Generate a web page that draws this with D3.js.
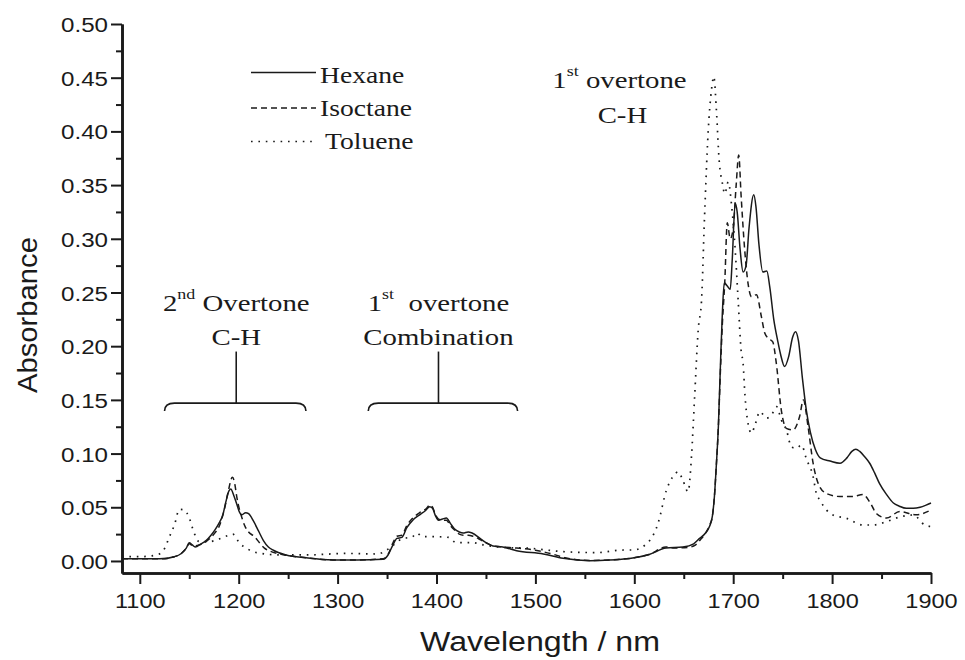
<!DOCTYPE html>
<meta charset="utf-8">
<script src="https://d3js.org/d3.v7.min.js"></script>
<style>
  body { margin: 0; background: #fff; }
  .sans { font-family: "Liberation Sans", Arial, sans-serif; fill: #1a1a1a; }
  .serif { font-family: "Liberation Serif", "Times New Roman", serif; fill: #1a1a1a; }
</style>
<div id="my_dataviz"></div>
<script>

// ---- data ----
var hexaneNm = [1082,1100,1120,1135,1142,1147,1150,1153,1156,1162,1167,1172,1176,1180,1184,1187,1190,1192,1195,1198,1201,1203,1207,1210,1215,1220,1225,1230,1235,1248,1268,1295,1320,1346,1351,1356,1360,1365,1370,1376,1383,1389,1393,1396,1399,1402,1406,1410,1414,1418,1423,1427,1432,1436,1444,1450,1457,1467,1481,1508,1528,1555,1575,1600,1615,1632,1649,1660,1666,1672,1676,1679,1681,1683,1685,1687,1689,1691,1694,1697,1699,1702,1704,1707,1710,1713,1716,1720.8,1723,1726,1730,1734,1737,1741,1745,1748,1752,1756,1760,1763,1766,1770,1774,1778,1783,1788,1798,1808,1815,1820,1824,1828,1833,1838,1843,1848,1855,1862,1868,1875,1882,1889,1895,1900];
var hexaneAbs = [0.002,0.002,0.002,0.004,0.007,0.012,0.017,0.015,0.013,0.016,0.019,0.024,0.029,0.035,0.043,0.055,0.065,0.067,0.061,0.053,0.045,0.043,0.045,0.044,0.037,0.028,0.019,0.013,0.010,0.0056,0.003,0.001,0.001,0.0016,0.0056,0.015,0.021,0.022,0.031,0.038,0.043,0.047,0.0506,0.049,0.042,0.038,0.039,0.040,0.035,0.030,0.027,0.026,0.027,0.026,0.021,0.017,0.014,0.013,0.0096,0.0065,0.0025,0.0003,0.0008,0.003,0.006,0.012,0.013,0.016,0.021,0.026,0.032,0.042,0.06,0.09,0.125,0.18,0.23,0.259,0.256,0.253,0.28,0.333,0.325,0.29,0.269,0.275,0.31,0.341,0.33,0.295,0.269,0.27,0.255,0.225,0.205,0.192,0.181,0.19,0.208,0.2135,0.205,0.17,0.14,0.12,0.104,0.096,0.093,0.091,0.096,0.102,0.104,0.102,0.097,0.091,0.082,0.072,0.062,0.054,0.051,0.049,0.049,0.050,0.052,0.054];

var isoNm = [1082,1120,1135,1142,1147,1150,1154,1160,1167,1174,1181,1186,1189,1193.7,1196,1198,1201,1203,1206,1210,1216,1221,1226,1232,1242,1268,1295,1320,1346,1351,1356,1360,1365,1370,1376,1383,1390,1393,1396,1399,1402,1406,1410,1414,1418,1423,1427,1432,1437,1444,1450,1457,1467,1481,1500,1515,1530,1555,1575,1600,1615,1632,1641,1649,1657,1662,1667,1672,1676,1679,1681,1683,1685,1687,1689,1691.5,1694,1697,1700,1703,1705.6,1708,1711.6,1715,1718.5,1723.5,1728.6,1732,1736,1740,1743.6,1748.7,1753.7,1760.5,1767,1771,1775.7,1780.8,1786,1794,1808,1821,1831,1838,1845,1855,1868.5,1885,1900];
var isoAbs = [0.002,0.002,0.004,0.007,0.012,0.016,0.014,0.015,0.018,0.024,0.034,0.050,0.063,0.078,0.072,0.060,0.047,0.041,0.033,0.027,0.0226,0.017,0.012,0.009,0.0065,0.003,0.001,0.001,0.002,0.006,0.017,0.023,0.024,0.033,0.040,0.045,0.049,0.052,0.050,0.043,0.039,0.038,0.038,0.033,0.029,0.025,0.024,0.024,0.023,0.020,0.017,0.014,0.013,0.012,0.010,0.007,0.003,0.0005,0.001,0.003,0.006,0.013,0.012,0.0123,0.013,0.015,0.020,0.026,0.033,0.042,0.06,0.09,0.125,0.175,0.22,0.26,0.315,0.30,0.31,0.35,0.378,0.34,0.29,0.2585,0.246,0.248,0.227,0.212,0.207,0.204,0.184,0.14,0.1235,0.122,0.134,0.15,0.125,0.091,0.072,0.063,0.060,0.060,0.062,0.055,0.044,0.040,0.046,0.043,0.0475];

var tolNm = [1082,1100,1117,1124,1130,1135,1140,1145,1150,1155,1160,1170,1179,1187,1194,1201,1208,1218,1242,1268,1309,1340,1351,1358,1366,1375,1380,1386,1400,1412,1420,1437,1447,1467,1494,1528,1562,1589,1599,1616,1624,1632.5,1639,1644.5,1649,1654.4,1657.8,1661,1664.6,1668,1671,1674.6,1678,1680.4,1683,1685.8,1689,1691.5,1695,1698.5,1702,1705,1708,1710,1712,1715,1718.5,1722,1727,1733.7,1738.8,1743.8,1748.8,1753.8,1759,1764,1769,1774,1780.8,1784,1787.6,1794.3,1801,1814.6,1831,1841.5,1855,1868.5,1882,1893.7,1900];
var tolAbs = [0.004,0.004,0.0056,0.010,0.0226,0.0335,0.048,0.0475,0.040,0.026,0.018,0.018,0.020,0.023,0.025,0.0165,0.0118,0.0078,0.0056,0.0056,0.007,0.0065,0.011,0.016,0.021,0.022,0.026,0.0226,0.0226,0.022,0.017,0.017,0.015,0.0127,0.0118,0.0087,0.0078,0.0102,0.0102,0.0196,0.035,0.066,0.0785,0.083,0.0754,0.0645,0.097,0.153,0.215,0.243,0.32,0.398,0.4385,0.451,0.42,0.373,0.352,0.342,0.353,0.33,0.29,0.243,0.196,0.184,0.153,0.128,0.119,0.1266,0.139,0.133,0.136,0.1437,0.131,0.122,0.106,0.105,0.108,0.095,0.0785,0.063,0.0568,0.0475,0.0428,0.0397,0.0335,0.0335,0.0366,0.041,0.0428,0.0335,0.032];

var seriesNames = ["Hexane", "Isoctane", "Toluene"];
var xMajor = [1100,1200,1300,1400,1500,1600,1700,1800,1900];
var xMinor = [1150,1250,1350,1450,1550,1650,1750,1850];
var yMajor = [0,0.05,0.10,0.15,0.20,0.25,0.30,0.35,0.40,0.45,0.50];
var yMinor = [0.025,0.075,0.125,0.175,0.225,0.275,0.325,0.375,0.425,0.475];

// ---- layout ----
var W = 965, H = 660;
var svg = d3.select("#my_dataviz").append("svg")
  .attr("width", W).attr("height", H);

var x = d3.scaleLinear().domain([1082, 1900]).range([122, 931]);
var y = d3.scaleLinear().domain([-0.0112, 0.5]).range([573, 24]);

var ink = "#1a1a1a";

// axes
function styleAxis(g) {
  g.select(".domain").attr("stroke", ink).attr("stroke-width", 2.6);
  g.selectAll(".tick line").attr("stroke", ink).attr("stroke-width", 2);
}

var xAxisMinor = svg.append("g").attr("transform", "translate(0,573)")
  .call(d3.axisBottom(x).tickValues(xMinor).tickSize(6).tickSizeOuter(0).tickFormat(""));
styleAxis(xAxisMinor);
var xAxis = svg.append("g").attr("transform", "translate(0,573)")
  .call(d3.axisBottom(x).tickValues(xMajor).tickSize(11).tickSizeOuter(0).tickFormat(d3.format("d")));
styleAxis(xAxis);
xAxis.selectAll("text")
  .attr("class", "sans").attr("font-size", 21).attr("y", 0).attr("dy", null)
  .attr("transform", "translate(0,35) scale(1.12,1)");

var yAxisMinor = svg.append("g").attr("transform", "translate(122,0)")
  .call(d3.axisLeft(y).tickValues(yMinor).tickSize(6).tickSizeOuter(0).tickFormat(""));
styleAxis(yAxisMinor);
var yAxis = svg.append("g").attr("transform", "translate(122,0)")
  .call(d3.axisLeft(y).tickValues(yMajor).tickSize(11).tickSizeOuter(0).tickFormat(d3.format(".2f")));
styleAxis(yAxis);
yAxis.selectAll("text")
  .attr("class", "sans").attr("font-size", 21).attr("x", 0).attr("dy", "0.36em")
  .attr("transform", "translate(-14,0) scale(1.15,1)");

// axis titles
svg.append("text").attr("class", "sans")
  .attr("font-size", 27)
  .attr("text-anchor", "middle")
  .attr("transform", "translate(37," + 315 + ") rotate(-90)")
  .attr("textLength", 156).attr("lengthAdjust", "spacingAndGlyphs")
  .text("Absorbance");

svg.append("text").attr("class", "sans")
  .attr("font-size", 27)
  .attr("text-anchor", "middle")
  .attr("x", 540).attr("y", 651)
  .attr("textLength", 240).attr("lengthAdjust", "spacingAndGlyphs")
  .text("Wavelength / nm");

// curves
var line = d3.line()
  .x(function(d) { return x(d[0]); })
  .y(function(d) { return y(d[1]); })
  .curve(d3.curveMonotoneX);

var series = [
  { name: seriesNames[0], pts: d3.zip(hexaneNm, hexaneAbs), dash: null, w: 1.5 },
  { name: seriesNames[1], pts: d3.zip(isoNm, isoAbs), dash: "6,4", w: 1.5 },
  { name: seriesNames[2], pts: d3.zip(tolNm, tolAbs), dash: "1.6,5.8", w: 1.7 }
];

svg.selectAll("path.spec")
  .data(series)
  .enter().append("path")
    .attr("class", "spec")
    .attr("fill", "none")
    .attr("stroke", ink)
    .attr("stroke-width", function(d) { return d.w; })
    .attr("stroke-dasharray", function(d) { return d.dash; })
    .attr("d", function(d) { return line(d.pts); });

// legend
var legendY = [83, 116, 148.5];
var legend = svg.selectAll("g.leg")
  .data(series)
  .enter().append("g")
    .attr("class", "leg");
legend.append("line")
  .attr("x1", 251).attr("x2", function(d, i) { return i == 2 ? 312 : 316; })
  .attr("y1", function(d, i) { return legendY[i] - (i == 0 ? 10.5 : i == 1 ? 8 : 7); })
  .attr("y2", function(d, i) { return legendY[i] - (i == 0 ? 10.5 : i == 1 ? 8 : 7); })
  .attr("stroke", ink)
  .attr("stroke-width", function(d) { return d.w; })
  .attr("stroke-dasharray", function(d) { return d.dash; });
legend.append("text")
  .attr("class", "serif")
  .attr("font-size", 24)
  .attr("transform", function(d, i) {
    return "translate(" + (i == 2 ? 325 : 320) + "," + legendY[i] + ") scale(1.15,1)";
  })
  .text(function(d) { return d.name; });

// annotations: label with optional superscript, placed in data units
function label(nm, abs, parts) {
  var t = svg.append("text").attr("class", "serif")
    .attr("font-size", 24)
    .attr("text-anchor", "middle")
    .attr("transform", "translate(" + x(nm) + "," + y(abs) + ") scale(1.2,1)");
  parts.forEach(function(p) {
    if (p.sup) {
      t.append("tspan").attr("font-size", 15).attr("dy", -12).text(p.sup);
      t.append("tspan").attr("dy", 12).text(p.after);
    } else {
      t.append("tspan").text(p.text);
    }
  });
}

label(1197.5, 0.2325, [{ text: "2" }, { sup: "nd", after: " Overtone" }]);
label(1197.5, 0.201, [{ text: "C-H" }]);
label(1402, 0.2325, [{ text: "1" }, { sup: "st", after: "\u00a0 overtone" }]);
label(1402, 0.201, [{ text: "Combination" }]);
label(1585, 0.440, [{ text: "1" }, { sup: "st", after: " overtone" }]);
label(1588, 0.408, [{ text: "C-H" }]);

// braces
var braces = [
  { x0: 1125, x1: 1268, mid: 1197.5 },
  { x0: 1331, x1: 1482, mid: 1402 }
];
var braceY = 0.147, braceTop = 0.195, curl = 8;
braces.forEach(function(b) {
  var p = d3.path();
  var xa = x(b.x0), xb = x(b.x1), yb = y(braceY);
  p.moveTo(xa, yb + curl);
  p.quadraticCurveTo(xa, yb, xa + curl + 2, yb);
  p.lineTo(xb - curl - 2, yb);
  p.quadraticCurveTo(xb, yb, xb, yb + curl);
  svg.append("path").attr("d", p.toString())
    .attr("fill", "none").attr("stroke", ink).attr("stroke-width", 1.6);
  svg.append("line")
    .attr("x1", x(b.mid)).attr("x2", x(b.mid))
    .attr("y1", yb).attr("y2", y(braceTop))
    .attr("stroke", ink).attr("stroke-width", 1.6);
});

</script>
